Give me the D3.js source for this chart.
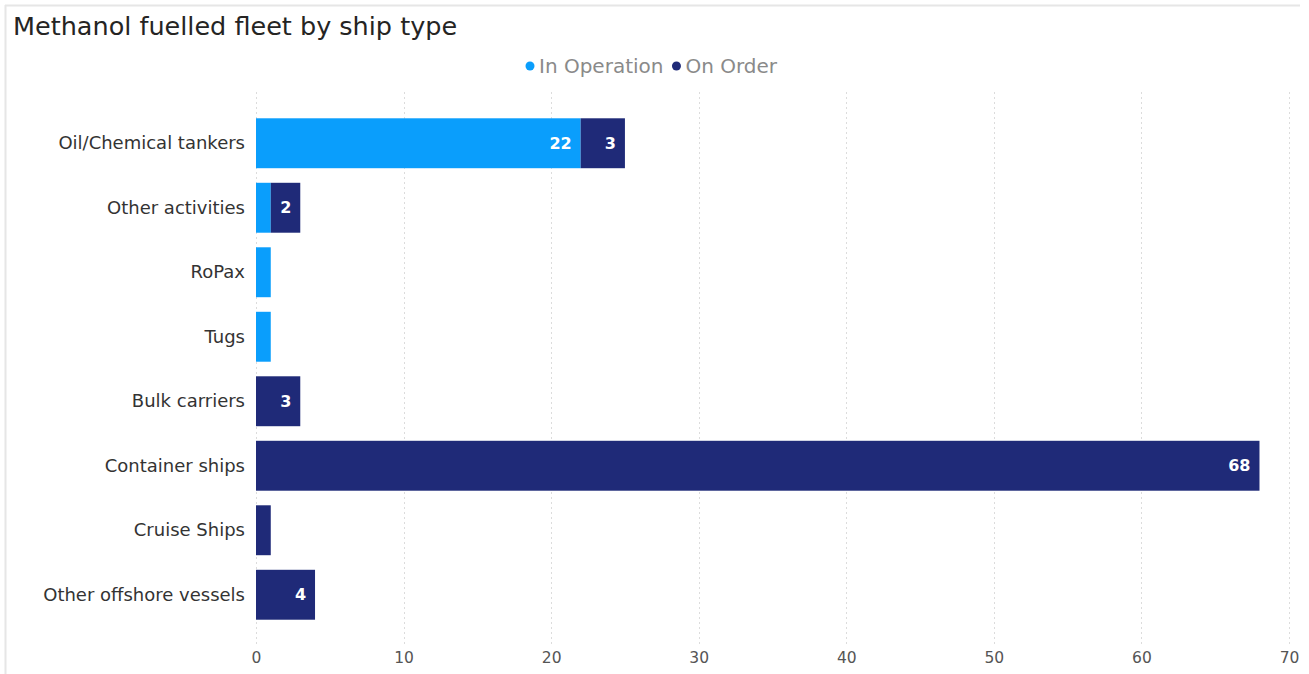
<!DOCTYPE html>
<html>
<head>
<meta charset="utf-8">
<script src="https://cdn.jsdelivr.net/npm/d3@7"></script>
<style>
  html, body { margin: 0; padding: 0; background: #fff; }
  svg { display: block; font-family: "DejaVu Sans", "Noto Sans", sans-serif; }
</style>
</head>
<body>
<svg id="chart" width="1309" height="674"></svg>
<script>
const categories = ["Oil/Chemical tankers", "Other activities", "RoPax", "Tugs", "Bulk carriers", "Container ships", "Cruise Ships", "Other offshore vessels"];
const inOperation = [22, 1, 1, 1, 0, 0, 0, 0];
const onOrder = [3, 2, 0, 0, 3, 68, 1, 4];
const seriesNames = ["In Operation", "On Order"];
const seriesColors = ["#0A9EFC", "#1F2A78"];
const xTicks = [0, 10, 20, 30, 40, 50, 60, 70];
const title = "Methanol fuelled fleet by ship type";

const svg = d3.select("#chart");
const W = 1309, H = 674;

// panel borders
svg.append("line").attr("x1", 5).attr("x2", 1300).attr("y1", 5.5).attr("y2", 5.5).attr("stroke", "#e6e6e6").attr("stroke-width", 2);
svg.append("line").attr("x1", 5.5).attr("x2", 5.5).attr("y1", 5).attr("y2", H).attr("stroke", "#e6e6e6").attr("stroke-width", 2);

// title
svg.append("text").attr("x", 13).attr("y", 35).attr("font-size", 25.5).attr("fill", "#252423").text(title);

const x = d3.scaleLinear().domain([0, 70]).range([256, 1289]);
const y = d3.scaleBand().domain(categories).range([111, 627]).paddingInner(0.226).paddingOuter(0.113);

// gridlines
svg.append("g").selectAll("line").data(xTicks).join("line")
  .attr("x1", d => Math.round(x(d)) + 0.5).attr("x2", d => Math.round(x(d)) + 0.5)
  .attr("y1", 92).attr("y2", 645)
  .attr("stroke", "#dcdcdc").attr("stroke-width", 1).attr("stroke-dasharray", "2,3");

// x axis
const xAxis = d3.axisBottom(x).tickValues(xTicks).tickSize(0).tickPadding(0);
const gx = svg.append("g").attr("transform", "translate(0,652)").call(xAxis);
gx.select(".domain").remove();
gx.selectAll("text").attr("font-size", 15.5).attr("fill", "#555").attr("font-family", "DejaVu Sans, sans-serif");

// y axis
const yAxis = d3.axisLeft(y).tickSize(0).tickPadding(11);
const gy = svg.append("g").attr("transform", "translate(256,0)").call(yAxis);
gy.select(".domain").remove();
gy.selectAll("text").attr("font-size", 18).attr("fill", "#333").attr("font-family", "DejaVu Sans, sans-serif");

// stacked data
const rows = categories.map((c, i) => ({ cat: c, "In Operation": inOperation[i], "On Order": onOrder[i] }));
const stack = d3.stack().keys(seriesNames)(rows);

const groups = svg.append("g").selectAll("g").data(stack).join("g")
  .attr("fill", (d, i) => seriesColors[i]);

groups.selectAll("rect").data(d => d).join("rect")
  .attr("x", d => x(d[0]))
  .attr("y", d => y(d.data.cat))
  .attr("width", d => x(d[1]) - x(d[0]))
  .attr("height", y.bandwidth());

// labels
const labelG = svg.append("g");
stack.forEach(s => {
  s.forEach(d => {
    const v = d[1] - d[0];
    if (v >= 2) {
      labelG.append("text")
        .attr("x", x(d[1]) - 9)
        .attr("y", y(d.data.cat) + y.bandwidth() / 2)
        .attr("dy", "0.35em")
        .attr("text-anchor", "end")
        .attr("font-size", 16)
        .attr("font-weight", "bold")
        .attr("fill", "#fff")
        .text(v);
    }
  });
});

// legend
const legend = svg.append("g");
let lx = 530;
seriesNames.forEach((name, i) => {
  legend.append("circle").attr("cx", lx).attr("cy", 66).attr("r", 4.5).attr("fill", seriesColors[i]);
  const t = legend.append("text").attr("x", lx + 9).attr("y", 66).attr("dy", "0.35em")
    .attr("font-size", 20).attr("fill", "#8a8a8a").text(name);
  lx = lx + 9 + t.node().getComputedTextLength() + 13;
});
</script>
</body>
</html>
